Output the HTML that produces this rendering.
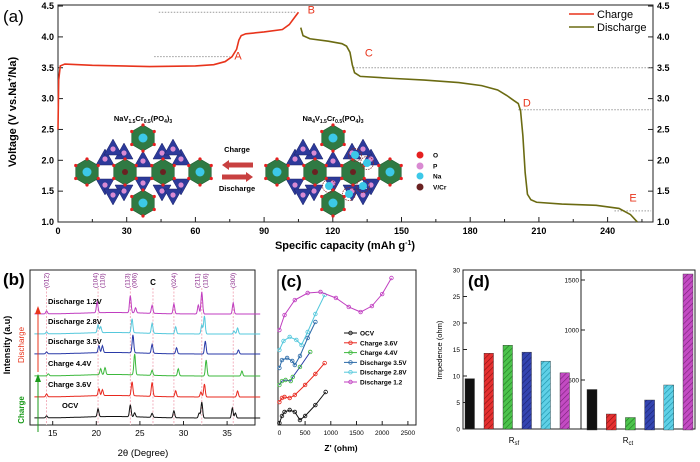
<!DOCTYPE html>
<html><head><meta charset="utf-8">
<style>
html,body{margin:0;padding:0;background:#fff;}
svg{display:block;font-family:"Liberation Sans",sans-serif;}
.b{font-weight:bold;}
</style></head>
<body>
<svg id="fig" width="700" height="462" viewBox="0 0 700 462" xmlns="http://www.w3.org/2000/svg">
<defs>
<pattern id="h-red" width="4" height="4" patternUnits="userSpaceOnUse" patternTransform="rotate(45)"><rect width="4" height="4" fill="#e53030"/><line x1="0" y1="0" x2="0" y2="4" stroke="#8a1010" stroke-width="1.2"/></pattern>
<pattern id="h-green" width="4" height="4" patternUnits="userSpaceOnUse" patternTransform="rotate(45)"><rect width="4" height="4" fill="#4cc34c"/><line x1="0" y1="0" x2="0" y2="4" stroke="#1f7a1f" stroke-width="1.2"/></pattern>
<pattern id="h-blue" width="4" height="4" patternUnits="userSpaceOnUse" patternTransform="rotate(45)"><rect width="4" height="4" fill="#3344b0"/><line x1="0" y1="0" x2="0" y2="4" stroke="#1a2270" stroke-width="1.2"/></pattern>
<pattern id="h-cyan" width="4" height="4" patternUnits="userSpaceOnUse" patternTransform="rotate(45)"><rect width="4" height="4" fill="#5fd0e6"/><line x1="0" y1="0" x2="0" y2="4" stroke="#1a8fa8" stroke-width="1.2"/></pattern>
<pattern id="h-mag" width="4" height="4" patternUnits="userSpaceOnUse" patternTransform="rotate(45)"><rect width="4" height="4" fill="#c34bc3"/><line x1="0" y1="0" x2="0" y2="4" stroke="#7a1f7a" stroke-width="1.2"/></pattern>
</defs>
<g id="pa"></g>
<g id="pb"></g>
<g id="pc"></g>
<g id="pd"></g>
</svg>
<script>
// ---------- Panel (a) data ----------
const chargeCap = [0, 0.3, 1, 3, 15, 40, 60, 68, 73, 76, 78, 79, 80, 82, 90, 98, 101, 103, 105];
const chargeV   = [2.5, 3.3, 3.53, 3.56, 3.54, 3.52, 3.53, 3.55, 3.6, 3.68, 3.8, 3.95, 4.02, 4.05, 4.08, 4.12, 4.2, 4.3, 4.4];
const dischargeCap = [106, 107, 110, 118, 124, 126, 127.5, 128.5, 129.5, 132, 145, 160, 175, 185, 192, 196, 199, 201, 202, 203, 204, 205, 206.5, 209, 220, 235, 245, 250, 253];
const dischargeV   = [4.15, 4.02, 3.97, 3.93, 3.89, 3.85, 3.75, 3.55, 3.42, 3.36, 3.33, 3.3, 3.26, 3.21, 3.14, 3.05, 2.97, 2.92, 2.8, 2.4, 1.8, 1.45, 1.36, 1.32, 1.29, 1.27, 1.22, 1.12, 1.0];
const aXTicks = [0, 30, 60, 90, 120, 150, 180, 210, 240];
const aYTicks = [1.0, 1.5, 2.0, 2.5, 3.0, 3.5, 4.0, 4.5];
const refLevels = [4.4, 3.68, 3.5, 2.82, 1.18];
const refFrom = [44, 42, 129, 201, 243];
const refTo = [104, 75, 259, 259, 259];
const pointLabels = ["A", "B", "C", "D", "E"];
const pointCap = [77, 109, 134, 203, 249.5];
const pointV = [3.63, 4.38, 3.68, 2.87, 1.33];

// ---------- Panel (b) data ----------
const xrdNames = ["OCV", "Charge 3.6V", "Charge 4.4V", "Discharge 3.5V", "Discharge 2.8V", "Discharge 1.2V"];
const xrdBase = [0, 21, 42, 64, 84, 104];
const xrdPeakPos = [
 [14.3, 20.2, 23.9, 24.4, 26.4, 28.9, 31.8, 32.1, 35.6, 35.95],
 [14.3, 20.3, 20.7, 24.1, 26.4, 29.1, 32.0, 32.4, 36.2],
 [14.5, 20.5, 21.0, 24.4, 26.4, 29.4, 32.6, 36.7],
 [14.3, 20.3, 20.7, 24.2, 26.4, 29.2, 32.5, 36.3],
 [14.3, 20.2, 20.5, 24.1, 26.4, 29.1, 32.1, 32.4, 35.8, 36.2],
 [14.3, 20.1, 23.9, 24.5, 26.4, 28.9, 31.7, 32.1, 35.7]
];
const xrdPeakH = [
 [2, 8, 12, 4, 4, 7, 5, 16, 10, 5],
 [3, 7, 6, 14, 14, 6, 5, 13, 6],
 [2, 6, 7, 21, 5, 7, 16, 5],
 [2, 7, 7, 18, 9, 6, 13, 4],
 [2, 8, 6, 14, 10, 7, 9, 18, 3, 6],
 [3, 11, 17, 5, 8, 10, 9, 22, 11]
];
const bXTicks = [15, 20, 25, 30, 35];
const refPeaks = [14.3, 20.2, 23.9, 26.5, 28.9, 32.1, 35.7];
const hklLabels = ["(012)", "(104)", "(110)", "(113)", "(006)", "(024)", "(211)", "(116)", "(300)"];
const hklPos = [14.3, 19.9, 20.7, 23.6, 24.4, 28.9, 31.6, 32.5, 35.7];

// ---------- Panel (c) data ----------
const eisNames = ["OCV", "Charge 3.6V", "Charge 4.4V", "Discharge 3.5V", "Discharge 2.8V", "Discharge 1.2"];
const eisRe = [
 [0, 50, 100, 200, 300, 400, 500, 700, 900],
 [0, 50, 100, 200, 300, 500, 700, 880],
 [0, 50, 120, 220, 260, 400, 600],
 [0, 50, 150, 250, 300, 400, 550, 700],
 [0, 80, 200, 330, 430, 550, 700, 880],
 [0, 100, 300, 550, 800, 1100, 1350, 1580, 1800, 2000, 2180]
];
const eisIm = [
 [33, 150, 217, 250, 217, 83, 150, 333, 550],
 [383, 450, 467, 450, 500, 667, 850, 1033],
 [667, 733, 750, 733, 800, 967, 1217],
 [950, 1083, 1117, 1067, 1000, 1150, 1450, 1717],
 [1250, 1400, 1467, 1417, 1333, 1550, 1850, 2167],
 [1583, 1833, 2083, 2200, 2217, 2117, 1967, 1883, 1983, 2183, 2450]
];
const cXTicks = [0, 500, 1000, 1500, 2000, 2500];

// ---------- Panel (d) data ----------
const rsfValues = [9.5, 14.3, 15.8, 14.5, 12.8, 10.6];
const rctValues = [405, 160, 125, 300, 450, 1560];
const dLeftTicks = [0, 5, 10, 15, 20, 25, 30];
const dRightTicks = [500, 1000, 1500];

const NS = "http://www.w3.org/2000/svg";
function mk(parent, tag, attrs, text) {
  const e = document.createElementNS(NS, tag);
  for (const k in attrs) e.setAttribute(k, attrs[k]);
  if (text !== undefined) e.textContent = text;
  parent.appendChild(e);
  return e;
}
const seriesColors = ["#111", "#e8281e", "#3cb83c", "#2a3aa8", "#55c8dc", "#c03ec0"];

// =========== PANEL A ===========
const pa = document.getElementById("pa");
const ax = c => 58 + c * 2.29;
const ay = v => 222 - (v - 1) * 61.7;
let e;
e = mk(pa, "rect", {x: 58, y: 5, width: 595, height: 217, fill: "none", stroke: "#222", "stroke-width": 1});


e = mk(pa, "text", {x: 3, y: 22, "font-size": 17}, "(a)");


aXTicks.forEach(t => {
  e = mk(pa, "line", {x1: ax(t), x2: ax(t), y1: 222, y2: 217, stroke: "#222"});
  
  
  e = mk(pa, "line", {x1: ax(t + 15), x2: ax(t + 15), y1: 222, y2: 219, stroke: "#222"});
  
  
  e = mk(pa, "text", {x: ax(t), y: 234, "font-size": 9, "text-anchor": "middle", class: "b"}, String(t));
  
  
});
aYTicks.forEach(t => {
  [[58, 63], [653, 648]].forEach(p => {
    e = mk(pa, "line", {x1: p[0], x2: p[1], y1: ay(t), y2: ay(t), stroke: "#222"});
    
    
  });
  e = mk(pa, "text", {x: 54, y: ay(t) + 3, "font-size": 9, "text-anchor": "end", class: "b"}, t.toFixed(1));
  
  
  e = mk(pa, "text", {x: 657, y: ay(t) + 3, "font-size": 9, class: "b"}, t.toFixed(1));
  
  
});
e = mk(pa, "text", {x: 345, y: 249, "font-size": 11, "text-anchor": "middle", class: "b"});


e.innerHTML = 'Specific capacity (mAh g<tspan dy="-4" font-size="7">-1</tspan><tspan dy="4">)</tspan>';
e = mk(pa, "text", {x: 0, y: 0, "font-size": 11, "text-anchor": "middle", class: "b", transform: "translate(16,112) rotate(-90)"});


e.innerHTML = 'Voltage (V vs.Na<tspan dy="-4" font-size="7">+</tspan><tspan dy="4">/Na)</tspan>';
refLevels.forEach((lv, i) => {
  e = mk(pa, "line", {x1: ax(refFrom[i]), x2: ax(refTo[i]), y1: ay(lv), y2: ay(lv), stroke: "#999", "stroke-dasharray": "1.5,1.5", "stroke-width": 1});
  
  
});
e = mk(pa, "polyline", {points: chargeCap.map((c, i) => ax(c) + "," + ay(chargeV[i])).join(" "), fill: "none", stroke: "#e8341c", "stroke-width": 1.6});


e = mk(pa, "polyline", {points: dischargeCap.map((c, i) => ax(c) + "," + ay(dischargeV[i])).join(" "), fill: "none", stroke: "#6b6b12", "stroke-width": 1.6});


pointLabels.forEach((l, i) => {
  e = mk(pa, "text", {x: ax(pointCap[i]), y: ay(pointV[i]), "font-size": 11, fill: "#e8341c"}, l);
  
  
});
[["Charge", "#e8341c", 14], ["Discharge", "#6b6b12", 27]].forEach(p => {
  e = mk(pa, "line", {x1: 569, x2: 594, y1: p[2], y2: p[2], stroke: p[1], "stroke-width": 1.6});
  
  
  e = mk(pa, "text", {x: 597, y: p[2] + 4, "font-size": 11}, p[0]);
  
  
});
// crystal structure inset (decorative)
function structure(cx, cy, name, sodiated) {
  const g = mk(pa, "g", {});
  
  
  const oct = [[0, -34], [-56, 0], [-18, 0], [20, 0], [57, 0], [0, 31]];
  const tri = [[-38, -14, 1], [-19, -20, 1], [19, -20, 1], [38, -14, 1], [0, -12, 1], [-38, 14, -1], [-19, 20, -1], [19, 20, -1], [38, 14, -1], [0, 12, -1], [-30, -24, 1], [30, -24, 1], [-30, 24, -1], [30, 24, -1]];
  tri.forEach(t => {
    const x = cx + t[0], y = cy + t[1], s = t[2];
    mk(g, "polygon", {points: `${x - 9},${y + 7 * s} ${x + 9},${y + 7 * s} ${x},${y - 9 * s}`, fill: "#2c3a9a", stroke: "#1a2266", "stroke-width": 0.5});
    mk(g, "circle", {cx: x, cy: y + 1 * s, r: 2.6, fill: "#d98ad2"});
  });
  oct.forEach((o, i) => {
    const x = cx + o[0], y = cy + o[1];
    const pts = [];
    for (let k = 0; k < 6; k++) { const a = Math.PI / 3 * k + Math.PI / 6; pts.push((x + 13 * Math.cos(a)) + "," + (y + 13 * Math.sin(a))); }
    mk(g, "polygon", {points: pts.join(" "), fill: "#2f7a43", stroke: "#1c5a2c", "stroke-width": 0.6});
    pts.forEach(p => { const q = p.split(","); mk(g, "circle", {cx: q[0], cy: q[1], r: 1.6, fill: "#e52020"}); });
    const inner = (i === 2 || i === 3) ? "#6a2222" : "#3cc8e8";
    mk(g, "circle", {cx: x, cy: y, r: (i === 2 || i === 3) ? 3 : 4.5, fill: inner});
  });
  if (sodiated) {
    [[22, -17], [34, -9], [-4, 14], [30, 14], [16, 22]].forEach(p => {
      mk(g, "circle", {cx: cx + p[0], cy: cy + p[1], r: 4, fill: "#3cc8e8"});
      mk(g, "circle", {cx: cx + p[0], cy: cy + p[1], r: 6.5, fill: "none", stroke: "#8a2a2a", "stroke-dasharray": "1.5,1", "stroke-width": 0.8});
    });
  }
}
structure(143, 172, "crystal-structure-desodiated", false);
structure(333, 172, "crystal-structure-sodiated", true);
e = mk(pa, "text", {x: 143, y: 121, "font-size": 7.5, "text-anchor": "middle", class: "b"});


e.innerHTML = 'NaV<tspan dy="2" font-size="5">1.5</tspan><tspan dy="-2">Cr</tspan><tspan dy="2" font-size="5">0.5</tspan><tspan dy="-2">(PO</tspan><tspan dy="2" font-size="5">4</tspan><tspan dy="-2">)</tspan><tspan dy="2" font-size="5">3</tspan>';
e = mk(pa, "text", {x: 333, y: 121, "font-size": 7.5, "text-anchor": "middle", class: "b"});


e.innerHTML = 'Na<tspan dy="2" font-size="5">4</tspan><tspan dy="-2">V</tspan><tspan dy="2" font-size="5">1.5</tspan><tspan dy="-2">Cr</tspan><tspan dy="2" font-size="5">0.5</tspan><tspan dy="-2">(PO</tspan><tspan dy="2" font-size="5">4</tspan><tspan dy="-2">)</tspan><tspan dy="2" font-size="5">3</tspan>';
e = mk(pa, "polygon", {points: "222,165 229,160 229,162.5 253,162.5 253,167.5 229,167.5 229,170", fill: "#c84040"});


e = mk(pa, "polygon", {points: "253,177 246,172 246,174.5 222,174.5 222,179.5 246,179.5 246,182", fill: "#c84040"});


e = mk(pa, "text", {x: 237, y: 152, "font-size": 7.5, "text-anchor": "middle", class: "b"}, "Charge");


e = mk(pa, "text", {x: 237, y: 191, "font-size": 7.5, "text-anchor": "middle", class: "b"}, "Discharge");


[["O", "#e52020", 155], ["P", "#d98ad2", 166], ["Na", "#3cc8e8", 176], ["V/Cr", "#6a2222", 187]].forEach(p => {
  e = mk(pa, "circle", {cx: 420, cy: p[2], r: 3.5, fill: p[1]});
  
  
  e = mk(pa, "text", {x: 433, y: p[2] + 2.5, "font-size": 6.5, class: "b"}, p[0]);
  
  
});

// =========== PANEL B ===========
const pb = document.getElementById("pb");
const bx = t => 52.7 + (t - 15) * 8.72;
const bY0 = 418;
e = mk(pb, "rect", {x: 30, y: 270, width: 225, height: 155, fill: "none", stroke: "#222"});


e = mk(pb, "text", {x: 3, y: 285, "font-size": 17, class: "b"}, "(b)");


refPeaks.forEach(p => {
  e = mk(pb, "line", {x1: bx(p), x2: bx(p), y1: 288, y2: 425, stroke: "#f0a0b0", "stroke-dasharray": "2,1.5", "stroke-width": 0.8});
  
  
});
hklLabels.forEach((l, i) => {
  e = mk(pb, "text", {x: 0, y: 0, "font-size": 6.5, fill: "#8a2a8a", transform: `translate(${bx(hklPos[i]) + 2},${288}) rotate(-90)`}, l);
  
  
});
e = mk(pb, "text", {x: bx(26.5), y: 285, "font-size": 8, "text-anchor": "middle", class: "b"}, "C");


xrdNames.forEach((nm, s) => {
  const pts = [];
  for (let t = 12.9; t <= 38.8; t += 0.05) {
    let v = 1.5 * Math.exp(-Math.pow((t - 22) / 5, 2));
    xrdPeakPos[s].forEach((p, k) => { v += xrdPeakH[s][k] * Math.exp(-Math.pow((t - p) / 0.13, 2)); });
    pts.push(bx(t).toFixed(1) + "," + (bY0 - xrdBase[s] - v).toFixed(1));
  }
  e = mk(pb, "polyline", {points: pts.join(" "), fill: "none", stroke: seriesColors[s], "stroke-width": 1});
  
  
  e = mk(pb, "text", {x: s === 0 ? 62 : 48, y: bY0 - xrdBase[s] - 10, "font-size": 7.5, class: "b"}, nm);
  
  
});
bXTicks.forEach(t => {
  e = mk(pb, "line", {x1: bx(t), x2: bx(t), y1: 425, y2: 421, stroke: "#222"});
  
  
  e = mk(pb, "text", {x: bx(t), y: 436, "font-size": 8.5, "text-anchor": "middle"}, String(t));
  
  
});
e = mk(pb, "text", {x: 143, y: 456, "font-size": 9.5, "text-anchor": "middle"}, "2θ (Degree)");


e = mk(pb, "text", {x: 0, y: 0, "font-size": 9, "text-anchor": "middle", class: "b", transform: "translate(10,345) rotate(-90)"}, "Intensity (a.u)");


e = mk(pb, "text", {x: 0, y: 0, "font-size": 8, "text-anchor": "middle", fill: "#e8341c", transform: "translate(24,345) rotate(-90)"}, "Discharge");


e = mk(pb, "text", {x: 0, y: 0, "font-size": 8, "text-anchor": "middle", fill: "#1a9a1a", class: "b", transform: "translate(24,410) rotate(-90)"}, "Charge");


e = mk(pb, "line", {x1: 38, x2: 38, y1: 432, y2: 380, stroke: "#1a9a1a", "stroke-width": 1});


mk(pb, "polygon", {points: "35,382 41,382 38,374", fill: "#1a9a1a"});
e = mk(pb, "line", {x1: 38, x2: 38, y1: 372, y2: 312, stroke: "#e8341c", "stroke-width": 1});


mk(pb, "polygon", {points: "35,314 41,314 38,306", fill: "#e8341c"});

// =========== PANEL C ===========
const pc = document.getElementById("pc");
const cx = z => 279.4 + z * 0.0514;
const cy = v => 425 - v * 0.06;
e = mk(pc, "rect", {x: 278, y: 270, width: 138, height: 155, fill: "none", stroke: "#222"});


e = mk(pc, "text", {x: 281, y: 287, "font-size": 17, class: "b"}, "(c)");


cXTicks.forEach(t => {
  e = mk(pc, "line", {x1: cx(t), x2: cx(t), y1: 425, y2: 421, stroke: "#222"});
  
  
  e = mk(pc, "text", {x: cx(t), y: 435, "font-size": 6.5, "text-anchor": "middle"}, String(t));
  
  
});
e = mk(pc, "text", {x: 341, y: 451, "font-size": 8.5, "text-anchor": "middle", class: "b"}, "Z' (ohm)");


const eisColors = ["#111", "#e8281e", "#2a3aa8", "#2a6aa8", "#55c8dc", "#c03ec0"];
eisNames.forEach((nm, s) => {
  const col = s === 2 ? "#3cb83c" : eisColors[s];
  e = mk(pc, "polyline", {points: eisRe[s].map((z, i) => cx(z) + "," + cy(eisIm[s][i])).join(" "), fill: "none", stroke: s === 2 ? "#2a3aa8" : col, "stroke-width": 1});
  
  
  eisRe[s].forEach((z, i) => {
    e = mk(pc, "circle", {cx: cx(z), cy: cy(eisIm[s][i]), r: 1.8, fill: "none", stroke: col, "stroke-width": 0.8});
    
    
  });
  const ly = 333 + s * 9.8;
  e = mk(pc, "line", {x1: 344, x2: 357, y1: ly, y2: ly, stroke: col, "stroke-width": 1});
  
  
  mk(pc, "circle", {cx: 350.5, cy: ly, r: 1.8, fill: "none", stroke: col, "stroke-width": 0.8});
  e = mk(pc, "text", {x: 360, y: ly + 2.5, "font-size": 6.5, class: "b"}, nm);
  
  
});

// =========== PANEL D ===========
const pd = document.getElementById("pd");
const dyL = v => 429 - v * 5.3;
const dyR = v => 430 - v * 0.1;
e = mk(pd, "rect", {x: 463, y: 270, width: 232, height: 159, fill: "none", stroke: "#222"});


e = mk(pd, "line", {x1: 581, x2: 581, y1: 270, y2: 429, stroke: "#222"});


e = mk(pd, "text", {x: 468, y: 287, "font-size": 17, class: "b"}, "(d)");


dLeftTicks.forEach(t => {
  e = mk(pd, "line", {x1: 463, x2: 467, y1: dyL(t), y2: dyL(t), stroke: "#222"});
  
  
  e = mk(pd, "text", {x: 460, y: dyL(t) + 2.5, "font-size": 6.5, "text-anchor": "end"}, String(t));
  
  
});
dRightTicks.forEach(t => {
  e = mk(pd, "line", {x1: 581, x2: 585, y1: dyR(t), y2: dyR(t), stroke: "#222"});
  
  
  e = mk(pd, "text", {x: 579, y: dyR(t) + 2.5, "font-size": 6.5, "text-anchor": "end"}, String(t));
  
  
});
const fills = ["#111", "url(#h-red)", "url(#h-green)", "url(#h-blue)", "url(#h-cyan)", "url(#h-mag)"];
rsfValues.forEach((v, i) => {
  e = mk(pd, "rect", {x: 465 + i * 19, y: dyL(v), width: 9.5, height: 429 - dyL(v), fill: fills[i], stroke: "#333", "stroke-width": 0.4});
  
  
});
rctValues.forEach((v, i) => {
  e = mk(pd, "rect", {x: 587 + i * 19.2, y: dyR(v), width: 10, height: 430 - dyR(v), fill: fills[i], stroke: "#333", "stroke-width": 0.4});
  
  
});
e = mk(pd, "text", {x: 514, y: 443, "font-size": 8, "text-anchor": "middle"});


e.innerHTML = 'R<tspan dy="2" font-size="6">sf</tspan>';
e = mk(pd, "text", {x: 628, y: 443, "font-size": 8, "text-anchor": "middle"});


e.innerHTML = 'R<tspan dy="2" font-size="6">ct</tspan>';
e = mk(pd, "text", {x: 0, y: 0, "font-size": 7.5, "text-anchor": "middle", transform: "translate(442,350) rotate(-90)"}, "Impedence (ohm)");


</script>
</body></html>
